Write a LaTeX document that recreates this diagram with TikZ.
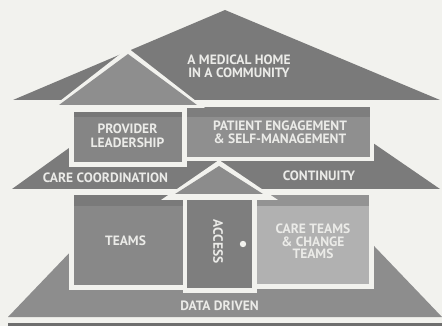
\documentclass[tikz,border=0pt]{standalone}
\usepackage{fontspec}
\setmainfont{PT Sans}
\definecolor{bg}{HTML}{F2F2EE}
\definecolor{roofbig}{HTML}{7A7A7A}
\definecolor{roofsmall}{HTML}{8E8E8E}
\definecolor{prov}{HTML}{858585}
\definecolor{provband}{HTML}{777777}
\definecolor{pat}{HTML}{8F8F8F}
\definecolor{patband}{HTML}{7E7E7E}
\definecolor{midtrap}{HTML}{7B7B7B}
\definecolor{teams}{HTML}{888888}
\definecolor{teamsband}{HTML}{7A7A7A}
\definecolor{door}{HTML}{7E7E7E}
\definecolor{roofacc}{HTML}{8C8C8C}
\definecolor{care}{HTML}{B1B1B1}
\definecolor{careband}{HTML}{939393}
\definecolor{bottrap}{HTML}{8D8D8D}
\definecolor{bar}{HTML}{6E6E6E}
\definecolor{txt}{HTML}{EBEBE8}
\begin{document}
\begin{tikzpicture}[x=1pt,y=-1pt,
  lbl/.style={text=txt, font=\bfseries\fontsize{13.5}{13.5}\selectfont, align=center, inner sep=0pt}]
\useasboundingbox (0,0) rectangle (442,326);
\fill[bg] (0,0) rectangle (442,326);
% big roof
\fill[roofbig] (225,10) -- (440,100) -- (13,100) -- cycle;
% middle trapezoid
\fill[midtrap] (76,143) -- (373,143) -- (440,189) -- (12,189) -- cycle;
% bottom trapezoid
\fill[bottrap] (120,200) -- (330,200) -- (442,317) -- (8,317) -- cycle;
% bottom bar
\fill[bar] (8,323) rectangle (442,326);
% patient box
\fill[bg] (183,103) rectangle (374,161);
\fill[pat] (187,107) rectangle (370,157);
\fill[patband] (187,107) rectangle (370,117);
% provider box
\fill[bg] (69,107) rectangle (187,167);
\fill[prov] (74,112) rectangle (182,162);
\fill[provband] (74,112) rectangle (182,117);
% small roof
\fill[bg] (128,48) -- (205,108) -- (51,108) -- cycle;
\fill[roofsmall] (128,54) -- (197,105) -- (59,105) -- cycle;
% lower boxes
\fill[bg] (69,191) rectangle (187,290);
\fill[teams] (74,195) rectangle (183,285);
\fill[teamsband] (74,195) rectangle (183,206);
\fill[bg] (253,191) rectangle (374,289);
\fill[care] (257,195) rectangle (369,284);
\fill[careband] (257,195) rectangle (369,206);
% door
\fill[bg] (183,196) rectangle (257,293);
\fill[door] (187,200) rectangle (252,288);
\fill[bg] (243,244) circle (3.2);
% access roof
\fill[bg] (219,160) -- (278,200) -- (161,200) -- cycle;
\fill[roofacc] (219,166) -- (263,194) -- (175,194) -- cycle;
% labels
\node[lbl] (home) at (239,66.5) {A MEDICAL HOME\\IN A COMMUNITY};
\node[lbl, font=\bfseries\fontsize{13.5}{14}\selectfont] (provider) at (127.5,136) {PROVIDER\\LEADERSHIP};
\node[lbl] (patient) at (280,132.5) {PATIENT ENGAGEMENT\\\& SELF-MANAGEMENT};
\node[lbl] (coord) at (105.5,178) {CARE COORDINATION};
\node[lbl] (cont) at (319,176) {CONTINUITY};
\node[lbl] (teamsl) at (125.5,241) {TEAMS};
\node[lbl, rotate=-90] (access) at (218,241.5) {ACCESS};
\node[lbl, font=\bfseries\fontsize{13.5}{12.5}\selectfont] (caret) at (313,241.5) {CARE TEAMS\\\& CHANGE\\TEAMS};
\node[lbl] (data) at (219.5,306) {DATA DRIVEN};
\end{tikzpicture}
\end{document}
